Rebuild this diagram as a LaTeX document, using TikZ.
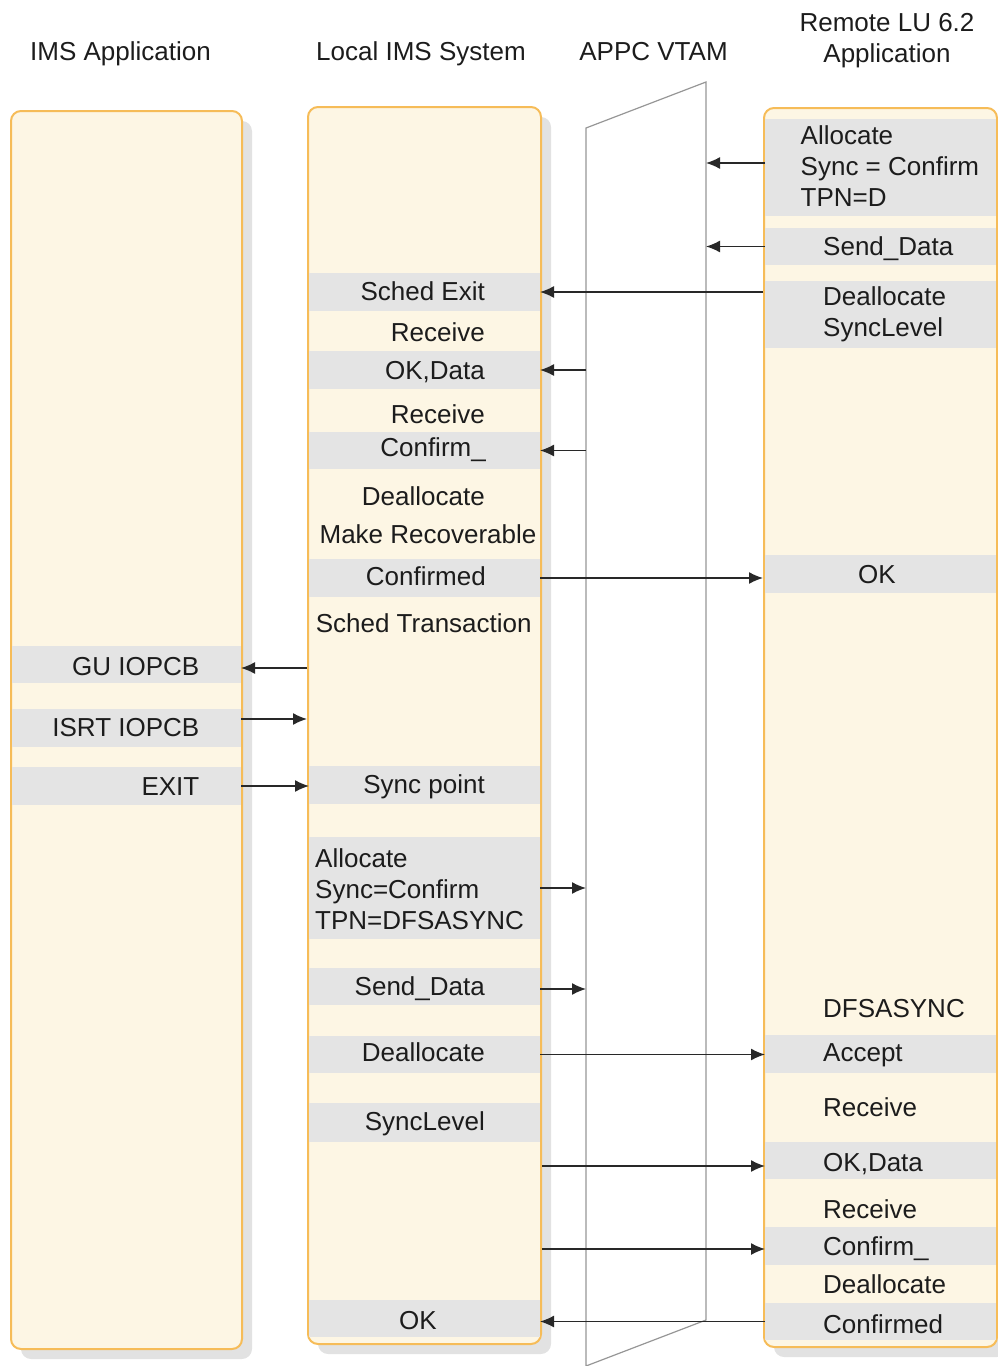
\documentclass[tikz,border=0pt]{standalone}
\usepackage{fontspec}
\setmainfont{Liberation Sans}
\usepackage{tikz}
\usetikzlibrary{arrows.meta, positioning, calc, shadows}
\usepackage{xcolor}
\definecolor{cream}{RGB}{253,246,228}
\definecolor{boxline}{RGB}{246,188,88}
\definecolor{bandgray}{RGB}{228,228,228}
\definecolor{shade}{RGB}{226,226,226}
\definecolor{vtamgray}{RGB}{150,150,150}
\definecolor{ink}{RGB}{28,28,28}
\definecolor{wire}{RGB}{40,40,40}

\begin{document}
\begin{tikzpicture}[x=1pt, y=-1pt,
  col/.style={draw=boxline, line width=2pt, fill=cream, rounded corners=10pt, inner sep=0pt,
    drop shadow={shadow xshift=10pt, shadow yshift=-10pt, fill=shade, opacity=1}},
  bar/.style={fill=bandgray, inner sep=0pt, outer sep=0pt},
  lbar/.style={bar, minimum width=229pt},
  mbar/.style={bar, minimum width=231pt},
  rbar/.style={bar, minimum width=231pt},
  txtblk/.style={font=\fontsize{26}{31}\selectfont, text=ink, inner sep=0pt},
  txt/.style={txtblk, text height=18.6pt, text depth=0pt},
  msg/.style={draw=wire, line width=1.4pt, -{Latex[length=14pt,width=12pt]}}]
  \useasboundingbox (0,0) rectangle (997,1366);

  % Headers
  \node[txt] (h-app) at (120.5,51) {IMS Application};
  \node[txt] (h-local) at (421,51) {Local IMS System};
  \node[txt] (h-vtam) at (653.5,51) {APPC VTAM};
  \node[txtblk, align=center, anchor=north] (h-remote) at (887,12.7) {Remote LU 6.2\\Application};

  % Columns
  \node[col, minimum width=231pt, minimum height=1238pt] (imsapp) at (126.5,730) {};
  \node[col, minimum width=233pt, minimum height=1237pt] (locims) at (424.5,725.5) {};
  \node[col, minimum width=233pt, minimum height=1239pt] (remote) at (880.5,727.5) {};

  % APPC VTAM
  \coordinate (vtTL) at (586,128);
  \coordinate (vtTR) at (706,82);
  \coordinate (vtBR) at (706,1320);
  \coordinate (vtBL) at (586,1366);
  \draw[vtamgray, line width=1.2pt] (vtBL) -- (vtTL) -- (vtTR) -- (vtBR) -- cycle;

  % Bands, IMS application
  \node[lbar, minimum height=37pt] (gu) at (126.5,664.5) {};
  \node[lbar, minimum height=38pt] (isrt) at (126.5,728) {};
  \node[lbar, minimum height=38pt] (exitb) at (126.5,786) {};

  % Bands, local IMS
  \node[mbar, minimum height=38pt] (schedx) at (424.5,292) {};
  \node[mbar, minimum height=38pt] (okdata) at (424.5,370) {};
  \node[mbar, minimum height=37pt] (confirm) at (424.5,450.5) {};
  \node[mbar, minimum height=38pt] (confirmed) at (424.5,578) {};
  \node[mbar, minimum height=38pt] (syncpt) at (424.5,785) {};
  \node[mbar, minimum height=102pt] (allocb) at (424.5,888) {};
  \node[mbar, minimum height=37pt] (sendb) at (424.5,986.5) {};
  \node[mbar, minimum height=37pt] (deallocb) at (424.5,1054.5) {};
  \node[mbar, minimum height=39pt] (synclvl) at (424.5,1122.5) {};
  \node[mbar, minimum height=37pt] (okb) at (424.5,1318.5) {};

  % Bands, remote
  \node[rbar, minimum height=97pt] (ralloc) at (880.5,167.5) {};
  \node[rbar, minimum height=37pt] (rsend) at (880.5,246.5) {};
  \node[rbar, minimum height=67pt] (rdealloc) at (880.5,314.5) {};
  \node[rbar, minimum height=38pt] (rok) at (880.5,574) {};
  \node[rbar, minimum height=38pt] (raccept) at (880.5,1054) {};
  \node[rbar, minimum height=37pt] (rokdata) at (880.5,1160.5) {};
  \node[rbar, minimum height=38pt] (rconfirm) at (880.5,1246) {};
  \node[rbar, minimum height=37pt] (rconfirmed) at (880.5,1321.5) {};

  % Texts, IMS application
  \node[txt, anchor=east] (t-gu) at (199.5,666) {GU IOPCB};
  \node[txt, anchor=east] (t-isrt) at (199.5,727.5) {ISRT IOPCB};
  \node[txt, anchor=east] (t-exit) at (199.5,786) {EXIT};

  % Texts, local IMS
  \node[txt, anchor=east] (t-schedx) at (485,291) {Sched Exit};
  \node[txt, anchor=east] (t-recv1) at (485,332) {Receive};
  \node[txt, anchor=east] (t-okdata) at (485,370.5) {OK,Data};
  \node[txt, anchor=east] (t-recv2) at (485,414.5) {Receive};
  \node[txt, anchor=east] (t-confirm) at (486,447) {Confirm\_};
  \node[txt, anchor=east] (t-dealloc1) at (485,496) {Deallocate};
  \node[txt] (t-recov) at (428,534) {Make Recoverable};
  \node[txt, anchor=east] (t-confirmed) at (486,576) {Confirmed};
  \node[txt] (t-schedtr) at (423.7,623.5) {Sched Transaction};
  \node[txt, anchor=east] (t-syncpt) at (485,784) {Sync point};
  \node[txtblk, align=left, anchor=north west, text depth=0pt] (t-alloc) at (315,848.3) {Allocate\\Sync=Confirm\\TPN=DFSASYNC};
  \node[txt, anchor=east] (t-send) at (485,986) {Send\_Data};
  \node[txt, anchor=east] (t-dealloc2) at (485,1052) {Deallocate};
  \node[txt, anchor=east] (t-synclvl) at (485,1121) {SyncLevel};
  \node[txt] (t-ok) at (418,1320) {OK};

  % Texts, remote
  \node[txtblk, align=left, anchor=north west, text depth=0pt] (t-ralloc) at (800.5,125) {Allocate\\Sync = Confirm\\TPN=D};
  \node[txt, anchor=west] (t-rsend) at (823,246) {Send\_Data};
  \node[txtblk, align=left, anchor=north west, text depth=0pt] (t-rdealloc) at (823,286.7) {Deallocate\\SyncLevel};
  \node[txt] (t-rok) at (877,574) {OK};
  \node[txt, anchor=west] (t-rdfs) at (823,1008) {DFSASYNC};
  \node[txt, anchor=west] (t-raccept) at (823,1052) {Accept};
  \node[txt, anchor=west] (t-rrecv1) at (823,1107) {Receive};
  \node[txt, anchor=west] (t-rokdata) at (823,1162.5) {OK,Data};
  \node[txt, anchor=west] (t-rrecv2) at (823,1209) {Receive};
  \node[txt, anchor=west] (t-rconfirm) at (823,1246) {Confirm\_};
  \node[txt, anchor=west] (t-rdealloc2) at (823,1284) {Deallocate};
  \node[txt, anchor=west] (t-rconfirmed) at (823,1324) {Confirmed};

  % Messages
  \draw[msg] ([yshift=4.5pt]ralloc.west) -- ([yshift=4.5pt]ralloc.west -| vtTR);
  \draw[msg] (rsend.west) -- (rsend.west -| vtTR);
  \draw[msg] (remote.west |- schedx.east) -- (schedx.east);
  \draw[msg] (okdata.east -| vtTL) -- (okdata.east);
  \draw[msg] (confirm.east -| vtTL) -- (confirm.east);
  \draw[msg] (confirmed.east) -- (confirmed.east -| remote.west);
  \draw[msg] ([yshift=-3.5pt]gu.east -| locims.west) -- ([yshift=-3.5pt]gu.east);
  \draw[msg] ([yshift=9pt]isrt.east) -- ([yshift=9pt]isrt.east -| locims.west);
  \draw[msg] (exitb.east) -- (exitb.east -| syncpt.west);
  \draw[msg] (allocb.east) -- (allocb.east -| vtTL);
  \draw[msg] ([yshift=-2.5pt]sendb.east) -- ([yshift=-2.5pt]sendb.east -| vtTL);
  \draw[msg] (deallocb.east) -- (deallocb.east -| raccept.west);
  \draw[msg] ([yshift=-5.5pt]rokdata.west -| locims.east) -- ([yshift=-5.5pt]rokdata.west);
  \draw[msg] ([yshift=-3pt]rconfirm.west -| locims.east) -- ([yshift=-3pt]rconfirm.west);
  \draw[msg] (rconfirmed.west) -- (rconfirmed.west -| okb.east);
\end{tikzpicture}
\end{document}
